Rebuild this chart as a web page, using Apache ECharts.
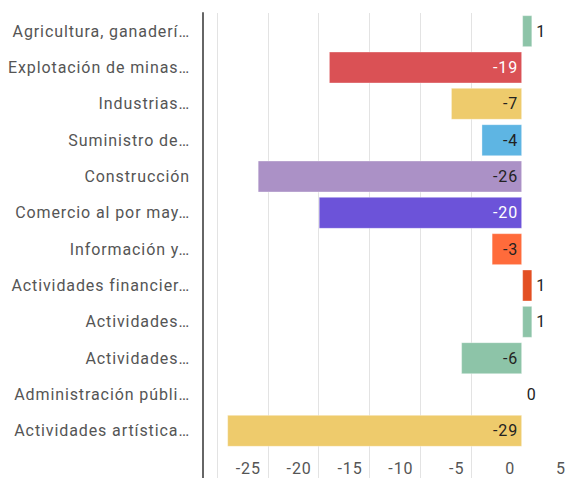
<!DOCTYPE html>
<html>
<head>
<meta charset="utf-8">
<script src="https://cdn.jsdelivr.net/npm/echarts@6/dist/echarts.min.js"></script>
<style>
  html, body { margin: 0; padding: 0; background: #fff; overflow: hidden; }
  /* the plot area runs a few px past the right edge, as in the original */
  #chart { width: 573px; height: 478px; }
  #chart text { letter-spacing: 0.9px; }
</style>
</head>
<body>
<div id="chart"></div>
<script>
// categorias (truncadas como en el original)
const categories = [
  'Agricultura, ganaderí…',
  'Explotación de minas…',
  'Industrias…',
  'Suministro de…',
  'Construcción',
  'Comercio al por may…',
  'Información y…',
  'Actividades financier…',
  'Actividades…',
  'Actividades…',
  'Administración públi…',
  'Actividades artística…'
];
const values = [1, -19, -7, -4, -26, -20, -3, 1, 1, -6, 0, -29];
const barColors = [
  '#8dc4a8', '#da5155', '#eecb6c', '#5eb5e3', '#ab91c6', '#6c53d9',
  '#ff6b3b', '#e34f22', '#8dc4a8', '#8dc4a8', '#8dc4a8', '#eecb6c'
];
const labelColors = [
  '#222', '#fff', '#222', '#222', '#222', '#fff',
  '#222', '#222', '#222', '#222', '#222', '#222'
];
const xTicks = [-30, -25, -20, -15, -10, -5, 0, 5];

const font = 'Roboto, "Noto Sans", sans-serif';
const gridColor = '#e3e3e3';

const seriesData = values.map((v, i) => ({
  value: v,
  itemStyle: { color: barColors[i] },
  label: {
    position: v < 0 ? 'insideRight' : 'right',
    color: labelColors[i]
  }
}));

const splitColors = xTicks.map(t => t === 0 ? 'rgba(0,0,0,0)' : gridColor);

const chart = echarts.init(document.getElementById('chart'), null, { renderer: 'svg' });
chart.setOption({
  animation: false,
  grid: [
    { left: 217, right: 0, top: 13, bottom: 29 },
    { left: 217, right: 0, top: 449, bottom: 0 }
  ],
  xAxis: [
    {
      type: 'value', gridIndex: 0,
      min: xTicks[0], max: xTicks[xTicks.length - 1], interval: 5,
      axisLine: { show: false }, axisTick: { show: false },
      axisLabel: { show: false },
      splitLine: { lineStyle: { color: splitColors } }
    },
    {
      type: 'value', gridIndex: 1,
      min: xTicks[0], max: xTicks[xTicks.length - 1], interval: 5,
      axisLine: { show: false }, axisTick: { show: false },
      axisLabel: {
        inside: true, margin: 2,
        align: 'right', padding: [0, 7, 0, 0],
        color: '#555', fontSize: 16, fontFamily: font,
        formatter: v => (v === xTicks[0] ? '' : String(v))
      },
      splitLine: { lineStyle: { color: splitColors } }
    }
  ],
  yAxis: [
    {
      type: 'category', gridIndex: 0, inverse: true, data: categories,
      offset: 14,
      axisLine: { show: true, onZero: false, lineStyle: { color: '#666', width: 2 } },
      axisTick: { show: false },
      axisLabel: { margin: 13, color: '#555', fontSize: 16, fontFamily: font }
    },
    {
      type: 'value', gridIndex: 1, offset: 14,
      axisLine: { show: true, onZero: false, lineStyle: { color: '#666', width: 2 } },
      axisTick: { show: false }, axisLabel: { show: false }, splitLine: { show: false }
    }
  ],
  series: [{
    type: 'bar',
    xAxisIndex: 0, yAxisIndex: 0,
    data: seriesData,
    barWidth: '88%',
    itemStyle: { borderColor: 'rgba(255,255,255,0.35)', borderWidth: 1 },
    label: {
      show: true, distance: 4,
      fontSize: 16, fontFamily: font
    }
  }]
});
</script>
</body>
</html>
